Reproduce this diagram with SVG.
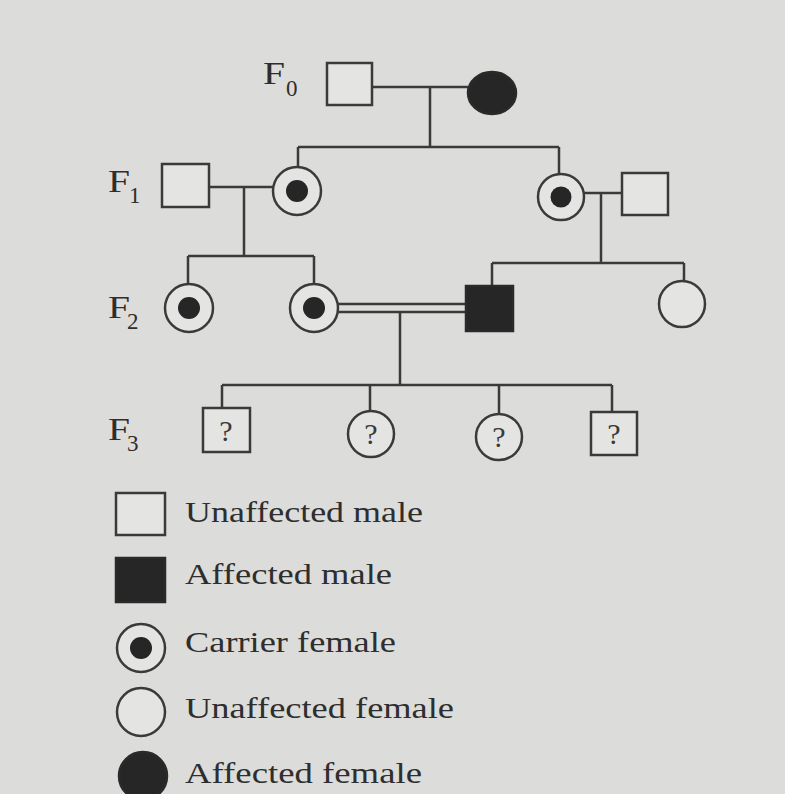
<svg xmlns="http://www.w3.org/2000/svg" width="785" height="794" viewBox="0 0 785 794">
<style>
.ln{stroke:#3a3a3a;stroke-width:2.5;fill:none}
.open{fill:#e4e4e2;stroke:#3a3a3a;stroke-width:2.5}
.fill{fill:#262626;stroke:#2a2a2a;stroke-width:2.5}
.dot{fill:#262626}
.gen{font-family:"Liberation Serif",serif;font-size:32px;fill:#2e2e2e}
.sub{font-family:"Liberation Serif",serif;font-size:23px;fill:#2e2e2e}
.q{font-family:"Liberation Serif",serif;font-size:30px;fill:#3a3a3a;text-anchor:middle}
.lg{font-family:"Liberation Serif",serif;font-size:29px;fill:#2e2e2e}
</style>
<rect width="785" height="794" fill="#dcdcda"/>

<!-- generation labels -->
<g id="labels">
<text class="gen" x="263" y="84" textLength="22" lengthAdjust="spacingAndGlyphs">F</text><text class="sub" x="286" y="96">0</text>
<text class="gen" x="108" y="192" textLength="22" lengthAdjust="spacingAndGlyphs">F</text><text class="sub" x="129" y="203">1</text>
<text class="gen" x="108" y="318" textLength="22" lengthAdjust="spacingAndGlyphs">F</text><text class="sub" x="127" y="329">2</text>
<text class="gen" x="108" y="440" textLength="22" lengthAdjust="spacingAndGlyphs">F</text><text class="sub" x="127" y="451">3</text>
</g>

<!-- connectors -->
<g id="connectors" class="ln">
<!-- F0 couple -->
<path d="M372 87H468"/>
<path d="M430 87V147"/>
<path d="M298 147H559"/>
<path d="M298 147V167"/>
<path d="M559 147V174"/>
<!-- F1 left couple -->
<path d="M209 187H273"/>
<path d="M244 187V256"/>
<path d="M188 256H314"/>
<path d="M188 256V284"/>
<path d="M314 256V285"/>
<!-- F1 right couple -->
<path d="M584 193H622"/>
<path d="M601 193V263"/>
<path d="M492 263H684"/>
<path d="M492 263V286"/>
<path d="M684 263V281"/>
<!-- F2 consanguineous marriage -->
<path d="M338 304H466"/>
<path d="M338 312H466"/>
<path d="M400 312V385"/>
<path d="M222 385H612"/>
<path d="M222 385V408"/>
<path d="M370 385V411"/>
<path d="M499 385V414"/>
<path d="M612 385V412"/>
</g>

<!-- F0 -->
<g id="f0-male"><rect class="open" x="327" y="63" width="45" height="42"/></g>
<g id="f0-female"><ellipse class="fill" cx="492" cy="93" rx="24" ry="21"/></g>

<!-- F1 -->
<g id="f1-male-left"><rect class="open" x="162" y="164" width="47" height="43"/></g>
<g id="f1-carrier-left"><circle class="open" cx="297" cy="191" r="24"/><circle class="dot" cx="297" cy="191" r="11"/></g>
<g id="f1-carrier-right"><circle class="open" cx="561" cy="197" r="23"/><circle class="dot" cx="561" cy="197" r="10.5"/></g>
<g id="f1-male-right"><rect class="open" x="622" y="173" width="46" height="42"/></g>

<!-- F2 -->
<g id="f2-carrier-1"><circle class="open" cx="189" cy="308" r="24"/><circle class="dot" cx="189" cy="308" r="11"/></g>
<g id="f2-carrier-2"><circle class="open" cx="314" cy="308" r="24"/><circle class="dot" cx="314" cy="308" r="11"/></g>
<g id="f2-affected-male"><rect class="fill" x="466" y="286" width="47" height="45"/></g>
<g id="f2-female"><circle class="open" cx="682" cy="304" r="23"/></g>

<!-- F3 -->
<g id="f3-1"><rect class="open" x="203" y="408" width="47" height="44"/><text class="q" x="226" y="441">?</text></g>
<g id="f3-2"><circle class="open" cx="371" cy="434" r="23"/><text class="q" x="371" y="444">?</text></g>
<g id="f3-3"><circle class="open" cx="499" cy="437" r="23"/><text class="q" x="499" y="447">?</text></g>
<g id="f3-4"><rect class="open" x="591" y="412" width="46" height="43"/><text class="q" x="614" y="444">?</text></g>

<!-- legend -->
<g id="legend-unaffected-male"><rect class="open" x="116" y="493" width="49" height="42"/><text class="lg" x="185" y="522" textLength="238" lengthAdjust="spacingAndGlyphs">Unaffected male</text></g>
<g id="legend-affected-male"><rect class="fill" x="116" y="558" width="49" height="44"/><text class="lg" x="185" y="584" textLength="207" lengthAdjust="spacingAndGlyphs">Affected male</text></g>
<g id="legend-carrier-female"><circle class="open" cx="141" cy="648" r="24"/><circle class="dot" cx="141" cy="648" r="11"/><text class="lg" x="185" y="652" textLength="211" lengthAdjust="spacingAndGlyphs">Carrier female</text></g>
<g id="legend-unaffected-female"><circle class="open" cx="141" cy="712" r="24"/><text class="lg" x="185" y="718" textLength="269" lengthAdjust="spacingAndGlyphs">Unaffected female</text></g>
<g id="legend-affected-female"><circle class="fill" cx="143" cy="776" r="24"/><text class="lg" x="185" y="783" textLength="237" lengthAdjust="spacingAndGlyphs">Affected female</text></g>
</svg>
